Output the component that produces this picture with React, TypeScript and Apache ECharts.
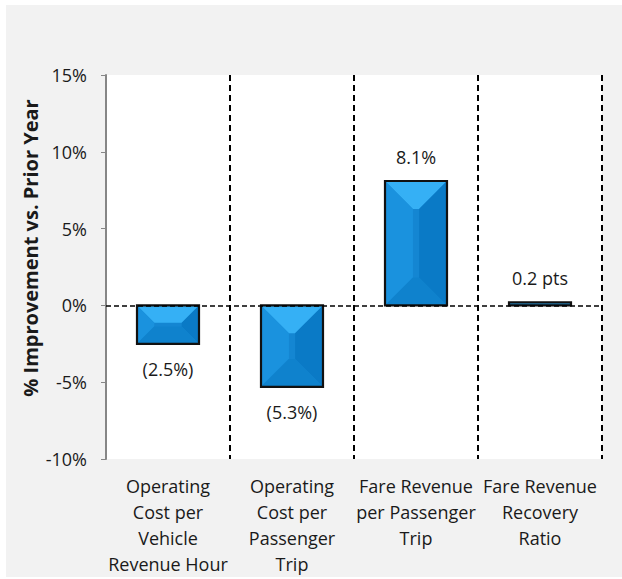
import React, { useEffect, useRef } from "react";
import * as echarts from "echarts";

const categories = [
  "Operating\nCost per\nVehicle\nRevenue Hour",
  "Operating\nCost per\nPassenger\nTrip",
  "Fare Revenue\nper Passenger\nTrip",
  "Fare Revenue\nRecovery\nRatio",
];
const values = [-2.5, -5.3, 8.1, 0.2];
const units = ["%", "%", "%", " pts"];
const yTicks = { min: -10, max: 15, interval: 5 };
const yAxisTitle = "% Improvement vs. Prior Year";

const FONT = "'Open Sans', 'Noto Sans', sans-serif";

function fmt(v: number, unit: string) {
  const s = Math.abs(v).toFixed(1) + unit;
  return v < 0 ? `(${s})` : s;
}

export default function App() {
  const ref = useRef<HTMLDivElement>(null);
  useEffect(() => {
    if (!ref.current) return;
    const chart = echarts.init(ref.current, null, { renderer: "svg" });
    const option: any = {
      animation: false,
      backgroundColor: "#f2f2f2",
      grid: {
        left: 100,
        right: 20,
        top: 70,
        bottom: 118,
        show: true,
        backgroundColor: "#ffffff",
        borderWidth: 0,
      },
      graphic: [
        {
          type: "text",
          x: 24,
          y: 243,
          rotation: Math.PI / 2,
          style: {
            text: yAxisTitle,
            fontFamily: FONT,
            fontSize: 20,
            fontWeight: "bold",
            fill: "#1a1a1a",
            align: "center",
            verticalAlign: "middle",
          },
        },
      ],
      xAxis: {
        type: "category",
        data: categories,
        boundaryGap: true,
        axisLine: { show: false },
        axisTick: { show: false },
        splitLine: {
          show: true,
          interval: 0,
          lineStyle: { color: "#000", width: 2, type: [6, 4] },
        },
        axisLabel: {
          interval: 0,
          margin: 14,
          fontFamily: FONT,
          fontSize: 18,
          lineHeight: 26,
          color: "#1a1a1a",
          align: "center",
        },
      },
      yAxis: {
        type: "value",
        min: yTicks.min,
        max: yTicks.max,
        interval: yTicks.interval,
        axisLine: { show: true, lineStyle: { color: "#868686", width: 2 } },
        axisTick: { show: true, length: 5, lineStyle: { color: "#868686", width: 1 } },
        splitLine: { show: false },
        axisLabel: {
          margin: 19,
          fontFamily: FONT,
          fontSize: 18,
          color: "#1a1a1a",
          formatter: (v: number) => `${v}%`,
        },
      },
      series: [
        {
          type: "custom",
          data: values.map((v, i) => [i, v]),
          renderItem: (params: any, api: any) => {
            const idx = api.value(0);
            const v = api.value(1);
            const p0 = api.coord([idx, 0]);
            const p1 = api.coord([idx, v]);
            const bw = api.size([1, 0])[0] * 0.5;
            const x0 = p0[0] - bw / 2;
            const x1 = p0[0] + bw / 2;
            const yT = Math.min(p0[1], p1[1]);
            const yB = Math.max(p0[1], p1[1]);
            const h = yB - yT;
            const d = Math.min(bw, h) * 0.45;
            const poly = (pts: number[][], fill: string) => ({
              type: "polygon",
              shape: { points: pts },
              style: { fill, stroke: null },
            });
            const label = fmt(v, units[idx]);
            const ly = v >= 0 ? yT - 24 : yB + 25;
            return {
              type: "group",
              children: [
                poly([[x0, yT], [x1, yT], [x1, yB], [x0, yB]], "#1486d2"),
                poly([[x0, yT], [x1, yT], [x1 - d, yT + d], [x0 + d, yT + d]], "#35b0f5"),
                poly([[x0, yT], [x0 + d, yT + d], [x0 + d, yB - d], [x0, yB]], "#1a92de"),
                poly([[x1, yT], [x1 - d, yT + d], [x1 - d, yB - d], [x1, yB]], "#0a7ac6"),
                poly([[x0, yB], [x1, yB], [x1 - d, yB - d], [x0 + d, yB - d]], "#0f82cd"),
                {
                  type: "rect",
                  shape: { x: x0, y: yT, width: bw, height: h },
                  style: { fill: null, stroke: "#111", lineWidth: 2.2 },
                },
                {
                  type: "text",
                  x: p0[0],
                  y: ly,
                  style: {
                    text: label,
                    fontFamily: FONT,
                    fontSize: 18,
                    fill: "#1a1a1a",
                    align: "center",
                    verticalAlign: "middle",
                  },
                },
              ],
            };
          },
          markLine: {
            silent: true,
            symbol: "none",
            label: { show: false },
            lineStyle: { color: "#000", width: 1.5, type: [5, 3] },
            data: [{ yAxis: 0 }],
          },
        },
      ],
    };
    chart.setOption(option);
    return () => chart.dispose();
  }, []);
  return (
    <div style={{ position: "fixed", left: 0, top: 0, width: 622, height: 579, background: "#fff" }}>
      <div ref={ref} style={{ position: "absolute", left: 6, top: 5, width: 616, height: 572 }} />
    </div>
  );
}
